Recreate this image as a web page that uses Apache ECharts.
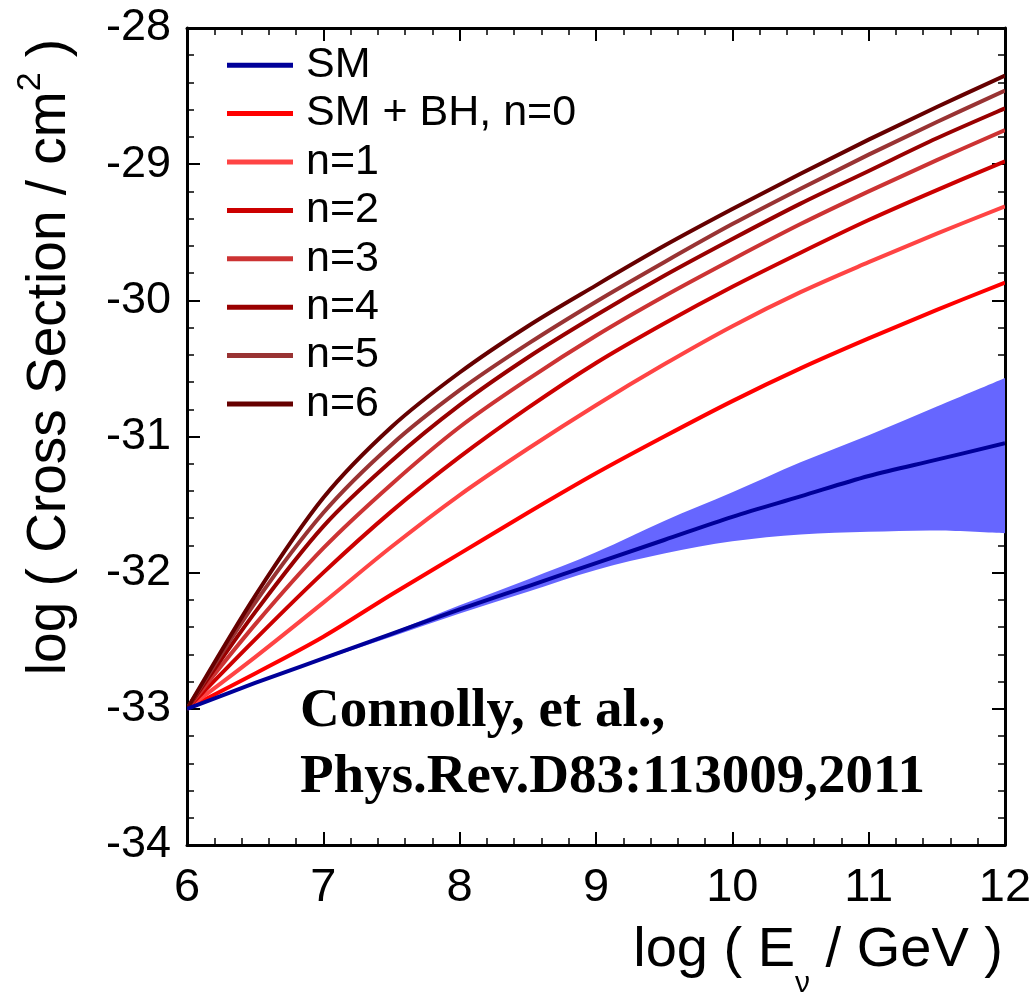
<!DOCTYPE html>
<html>
<head>
<meta charset="utf-8">
<script src="https://cdn.jsdelivr.net/npm/echarts@6/dist/echarts.min.js"></script>
<style>
  html, body { margin: 0; padding: 0; background: #fff; }
  #chart { width: 1036px; height: 994px; }
</style>
</head>
<body>
<div id="chart"></div>
<script>
// log10(E_nu / GeV) sample points shared by all curves and the band
const energies = [6, 6.5, 7, 7.5, 8, 8.5, 9, 9.5, 10, 10.5, 11, 11.5, 12];

// log10(sigma / cm^2): Standard Model and SM + black-hole production with n extra dimensions
const smValues = [-33, -32.81, -32.63, -32.45, -32.27, -32.10, -31.93, -31.76, -31.59, -31.44, -31.29, -31.17, -31.05];
const bhN0 = [-33, -32.74, -32.47, -32.16, -31.86, -31.56, -31.27, -31.00, -30.74, -30.50, -30.28, -30.07, -29.87];
const bhN1 = [-33, -32.62, -32.22, -31.81, -31.43, -31.09, -30.77, -30.47, -30.19, -29.94, -29.72, -29.51, -29.31];
const bhN2 = [-33, -32.49, -32.00, -31.55, -31.15, -30.79, -30.46, -30.17, -29.90, -29.65, -29.41, -29.19, -28.98];
const bhN3 = [-33, -32.38, -31.82, -31.35, -30.93, -30.58, -30.26, -29.97, -29.70, -29.44, -29.20, -28.97, -28.75];
const bhN4 = [-33, -32.29, -31.66, -31.18, -30.77, -30.42, -30.11, -29.82, -29.55, -29.29, -29.05, -28.81, -28.59];
const bhN5 = [-33, -32.22, -31.56, -31.06, -30.66, -30.32, -30.01, -29.72, -29.44, -29.18, -28.93, -28.69, -28.46];
const bhN6 = [-33, -32.17, -31.45, -30.93, -30.53, -30.19, -29.89, -29.60, -29.33, -29.07, -28.82, -28.58, -28.35];

// Standard Model uncertainty band (upper and lower edges)
const bandHigh = [-33, -32.81, -32.62, -32.44, -32.24, -32.05, -31.85, -31.62, -31.41, -31.19, -30.99, -30.78, -30.57];
const bandLow = [-33, -32.81, -32.64, -32.47, -32.30, -32.14, -31.98, -31.86, -31.77, -31.72, -31.70, -31.69, -31.71];

const seriesNames = ['SM', 'SM + BH, n=0', 'n=1', 'n=2', 'n=3', 'n=4', 'n=5', 'n=6'];
const seriesValues = [smValues, bhN0, bhN1, bhN2, bhN3, bhN4, bhN5, bhN6];
const seriesColors = ['#000099', '#ff0000', '#ff4444', '#cc0000', '#cc3333', '#990000', '#993333', '#660000'];

const xTicks = [6, 7, 8, 9, 10, 11, 12];
const yTicks = [-34, -33, -32, -31, -30, -29, -28];

const sansFont = '"Liberation Sans", Arial, Helvetica, sans-serif';
const serifFont = '"Liberation Serif", "Times New Roman", serif';

const chart = echarts.init(document.getElementById('chart'), null, { renderer: 'canvas' });

function frameAxis(position, showLabels, isX) {
  return {
    type: 'value',
    position: position,
    min: isX ? xTicks[0] : yTicks[0],
    max: isX ? xTicks[xTicks.length - 1] : yTicks[yTicks.length - 1],
    interval: 1,
    axisLine: { show: true, onZero: false, lineStyle: { color: '#000', width: 3 } },
    axisTick: { show: true, inside: true, length: 13, lineStyle: { color: '#000', width: 2 } },
    minorTick: { show: true, splitNumber: 5, length: 7, lineStyle: { color: '#000', width: 1.5 } },
    splitLine: { show: false },
    axisLabel: {
      show: showLabels,
      color: '#000',
      fontFamily: sansFont,
      fontSize: isX ? 47 : 45,
      margin: isX ? 20 : 16
    }
  };
}

// Catmull-Rom curve through pixel points, as an SVG path string
function splinePath(pts, startCmd) {
  let d = startCmd + pts[0][0] + ' ' + pts[0][1];
  for (let i = 0; i < pts.length - 1; i++) {
    const p0 = pts[Math.max(i - 1, 0)];
    const p1 = pts[i];
    const p2 = pts[i + 1];
    const p3 = pts[Math.min(i + 2, pts.length - 1)];
    const c1 = [p1[0] + (p2[0] - p0[0]) / 6, p1[1] + (p2[1] - p0[1]) / 6];
    const c2 = [p2[0] - (p3[0] - p1[0]) / 6, p2[1] - (p3[1] - p1[1]) / 6];
    d += ' C' + c1[0] + ' ' + c1[1] + ' ' + c2[0] + ' ' + c2[1] + ' ' + p2[0] + ' ' + p2[1];
  }
  return d;
}

// Cross-section curves: each series draws one smooth path through its points
const lineSeries = seriesNames.map((name, k) => ({
  name: name,
  type: 'custom',
  xAxisIndex: 0,
  yAxisIndex: 0,
  silent: true,
  clip: true,
  z: k === 0 ? 4 : 3,
  itemStyle: { color: seriesColors[k] },
  data: energies.map((x, i) => [x, seriesValues[k][i]]),
  encode: { x: 0, y: 1 },
  renderItem: function (params, api) {
    if (params.dataIndex !== 0) return null;
    const pts = energies.map((x, i) => api.coord([x, seriesValues[k][i]]));
    return {
      type: 'path',
      shape: { pathData: splinePath(pts, 'M') },
      style: { fill: 'none', stroke: seriesColors[k], lineWidth: 4, lineJoin: 'round' }
    };
  }
}));

// SM uncertainty band between the upper and lower edges
const bandSeries = {
  name: 'SM band',
  type: 'custom',
  xAxisIndex: 0,
  yAxisIndex: 0,
  silent: true,
  clip: true,
  z: 2,
  data: energies.map((x, i) => [x, bandHigh[i], bandLow[i]]),
  encode: { x: 0, y: [1, 2] },
  renderItem: function (params, api) {
    if (params.dataIndex !== 0) return null;
    const upper = energies.map((x, i) => api.coord([x, bandHigh[i]]));
    const lower = energies.map((x, i) => api.coord([x, bandLow[i]])).reverse();
    const d = splinePath(upper, 'M') + ' ' + splinePath(lower, 'L') + ' Z';
    return { type: 'path', shape: { pathData: d }, style: { fill: '#6666ff' } };
  }
};

const option = {
  animation: false,
  backgroundColor: '#ffffff',
  grid: { left: 187, right: 31, top: 28, bottom: 149, containLabel: false },
  xAxis: [frameAxis('bottom', true, true), frameAxis('top', false, true)],
  yAxis: [frameAxis('left', true, false), frameAxis('right', false, false)],
  legend: {
    data: seriesNames,
    orient: 'vertical',
    left: 222,
    top: 36,
    icon: 'rect',
    itemWidth: 66,
    itemHeight: 5,
    itemGap: 0,
    selectedMode: false,
    textStyle: {
      color: '#000',
      fontFamily: sansFont,
      fontSize: 43,
      lineHeight: 48.4,
      padding: [0, 0, 0, 8]
    }
  },
  graphic: [
    {
      type: 'text',
      x: 50,
      y: 357,
      rotation: Math.PI / 2,
      style: {
        text: 'log ( Cross Section / cm{sup|2} )',
        fontFamily: sansFont,
        fontSize: 55,
        fill: '#000',
        align: 'center',
        verticalAlign: 'middle',
        rich: { sup: { fontSize: 34, fontFamily: sansFont, fill: '#000', padding: [0, 0, 38, 0] } }
      }
    },
    {
      type: 'text',
      x: 1003,
      y: 951,
      style: {
        text: 'log ( E{sub|\u03bd} / GeV )',
        fontFamily: sansFont,
        fontSize: 56,
        fill: '#000',
        align: 'right',
        verticalAlign: 'middle',
        rich: { sub: { fontSize: 30, fontFamily: sansFont, fill: '#000', padding: [66, 0, 0, 0] } }
      }
    },
    {
      type: 'text',
      x: 300,
      y: 712,
      style: {
        text: 'Connolly, et al.,',
        fontFamily: serifFont,
        fontWeight: 'bold',
        fontSize: 55,
        fill: '#000',
        align: 'left',
        verticalAlign: 'middle'
      }
    },
    {
      type: 'text',
      x: 300,
      y: 778,
      style: {
        text: 'Phys.Rev.D83:113009,2011',
        fontFamily: serifFont,
        fontWeight: 'bold',
        fontSize: 55,
        fill: '#000',
        align: 'left',
        verticalAlign: 'middle'
      }
    }
  ],
  series: [bandSeries].concat(lineSeries)
};

chart.setOption(option);
</script>
</body>
</html>
